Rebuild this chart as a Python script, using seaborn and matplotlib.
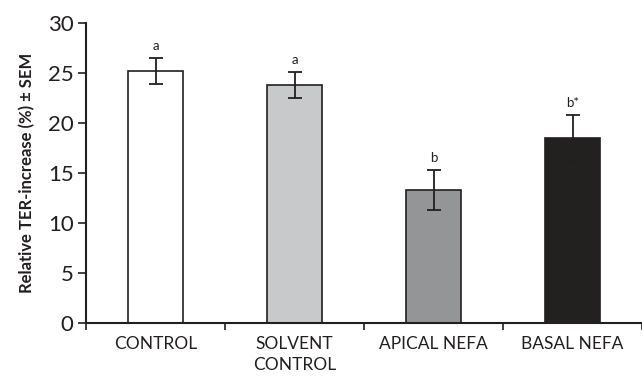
import matplotlib
matplotlib.use("Agg")
import matplotlib.pyplot as plt
import seaborn as sns
import pandas as pd
import numpy as np

categories = ["CONTROL", "SOLVENT\nCONTROL", "APICAL NEFA", "BASAL NEFA"]
values = [25.2, 23.8, 13.3, 18.5]
sem = [1.3, 1.3, 2.0, 2.3]
letters = ["a", "a", "b", "b*"]
colors = ["#ffffff", "#c8c9cb", "#939598", "#231f20"]
yticks = [0, 5, 10, 15, 20, 25, 30]

sns.set_style("ticks")
plt.rcParams["font.family"] = ["Lato", "DejaVu Sans"]

df = pd.DataFrame({"group": categories, "value": values})

fig = plt.figure(figsize=(6.42, 3.77), dpi=100)
ax = fig.add_axes([0.134, 0.143, 0.866, 0.796])

sns.barplot(data=df, x="group", y="value", hue="group", palette=colors,
            width=0.4, edgecolor="#231f20", linewidth=1.2, legend=False, ax=ax)

x = np.arange(len(categories))
ax.errorbar(x, values, yerr=sem, fmt="none", ecolor="#231f20",
            elinewidth=1.3, capsize=5, capthick=1.3, zorder=5)

for xi, v, s, lab in zip(x, values, sem, letters):
    ax.text(xi, v + s + 0.6, lab, ha="center", va="bottom", fontsize=9.5,
            color="#231f20")

ax.set_ylim(0, 30)
ax.set_xlim(-0.5, 3.5)
ax.set_yticks(yticks)
ax.set_yticklabels([str(t) for t in yticks], fontsize=16, color="#231f20")

ax.set_xticks([-0.5, 0.5, 1.5, 2.5, 3.5])
ax.set_xticklabels([])
ax.set_xticks(x, minor=True)
ax.set_xticklabels(categories, minor=True, fontsize=12.5, color="#231f20",
                   linespacing=1.4)
ax.tick_params(axis="x", which="minor", length=0, pad=9)
ax.tick_params(axis="x", which="major", length=5, width=1.2, color="#231f20")
ax.tick_params(axis="y", length=6, width=1.2, color="#231f20", pad=3)

ax.set_xlabel("")
ax.set_ylabel("Relative TER-increase (%) ± SEM", fontsize=12, fontweight="bold",
              color="#231f20", labelpad=9)

sns.despine(ax=ax)
for sp in ["left", "bottom"]:
    ax.spines[sp].set_linewidth(1.5)
    ax.spines[sp].set_color("#231f20")

fig.savefig("out.png", dpi=100)
